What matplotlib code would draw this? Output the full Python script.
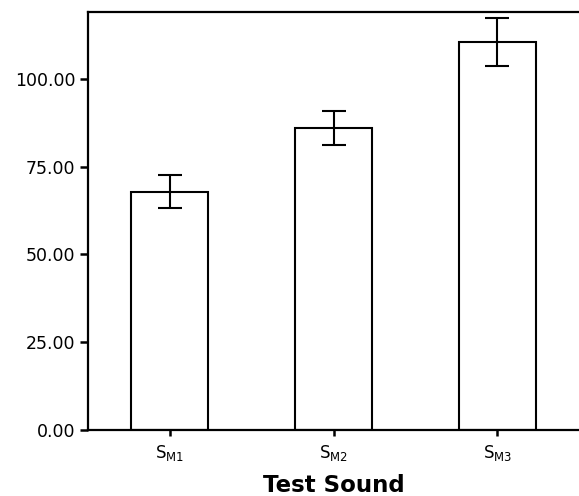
import numpy as np
import matplotlib
matplotlib.use("Agg")
import matplotlib.pyplot as plt

# ---------------------------------
# Data
# ---------------------------------

sounds = ["S$\\mathregular{_{M1}}$", "S$\\mathregular{_{M2}}$", "S$\\mathregular{_{M3}}$"]

means = [67.8, 86.0, 110.5]

errors = [4.7, 4.85, 6.85]

y_ticks = [0, 25, 50, 75, 100]

# ---------------------------------
# Plot
# ---------------------------------

plt.rcParams["font.family"] = ["DejaVu Sans"]

fig = plt.figure(figsize=(5.79, 4.96), dpi=100)

ax = fig.add_axes([0.152, 0.133, 0.848, 0.843])

x = np.arange(len(sounds))

ax.bar(
    x,
    means,
    width=0.47,
    color="white",
    edgecolor="black",
    linewidth=1.5
)

ax.errorbar(
    x,
    means,
    yerr=errors,
    fmt="none",
    ecolor="black",
    elinewidth=1.5,
    capsize=8.5,
    capthick=1.5
)

ax.set_xlim(-0.5, 2.5)
ax.set_ylim(0, 119)

ax.set_yticks(y_ticks)
ax.set_yticklabels(["%.2f" % v for v in y_ticks], fontsize=12.5)

ax.set_xticks(x)
ax.set_xticklabels(sounds, fontsize=12)

ax.tick_params(axis="y", direction="out", length=6, width=1.8, pad=3)
ax.tick_params(axis="x", direction="out", length=4, width=1.8, pad=5)

for side in ["left", "bottom", "top"]:
    ax.spines[side].set_linewidth(1.6)

ax.spines["right"].set_visible(False)

ax.set_xlabel("Test Sound", fontsize=16.5, fontweight="bold", labelpad=8)

fig.savefig("out.png", dpi=100)
